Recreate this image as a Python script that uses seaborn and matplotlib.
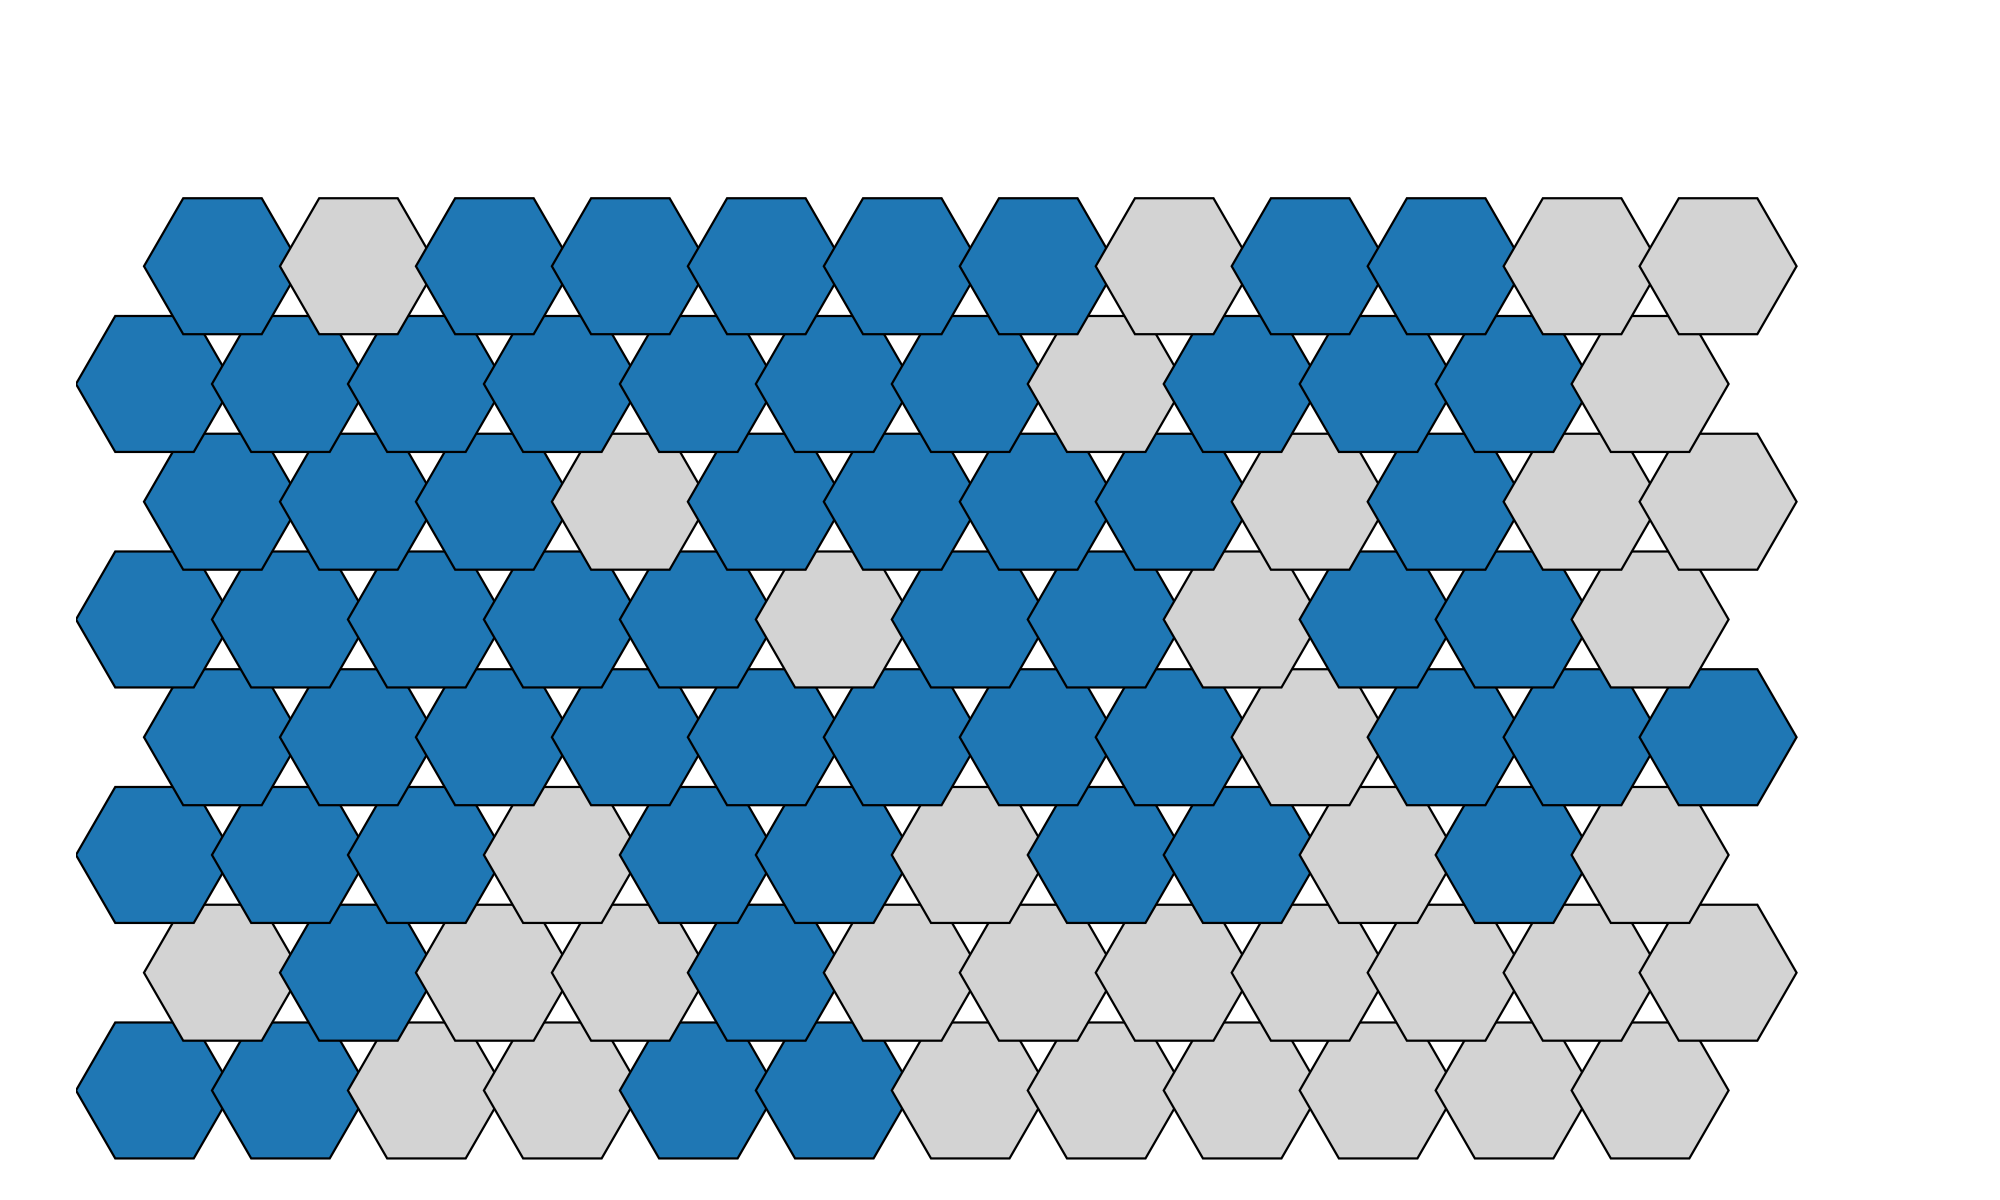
import numpy as np
import matplotlib
matplotlib.use("Agg")
import matplotlib.pyplot as plt
from matplotlib.patches import RegularPolygon
import seaborn as sns

sns.set_style("white")

# grid values, row 0 = bottom row; 1 = blue, 0 = grey
row0 = [1, 1, 0, 0, 1, 1, 0, 0, 0, 0, 0, 0]
row1 = [0, 1, 0, 0, 1, 0, 0, 0, 0, 0, 0, 0]
row2 = [1, 1, 1, 0, 1, 1, 0, 1, 1, 0, 1, 0]
row3 = [1, 1, 1, 1, 1, 1, 1, 1, 0, 1, 1, 1]
row4 = [1, 1, 1, 1, 1, 0, 1, 1, 0, 1, 1, 0]
row5 = [1, 1, 1, 0, 1, 1, 1, 1, 0, 1, 0, 0]
row6 = [1, 1, 1, 1, 1, 1, 1, 0, 1, 1, 1, 0]
row7 = [1, 0, 1, 1, 1, 1, 1, 0, 1, 1, 0, 0]
grid = [row0, row1, row2, row3, row4, row5, row6, row7]

pal = sns.color_palette("tab10")
colors = {1: pal[0], 0: "lightgray"}

fig = plt.figure(figsize=(20, 12), dpi=100)
ax = fig.add_axes([0.038, 0, 0.962, 1])

r = 1.0
dx = np.sqrt(3) * r
dy = 1.5 * r
for i, row in enumerate(grid):
    for j, v in enumerate(row):
        x = j * dx + (i % 2) * dx / 2
        y = i * dy
        hexa = RegularPolygon((x, y), numVertices=6, radius=r,
                              orientation=np.pi / 6,
                              facecolor=colors[v], edgecolor="black", lw=1.6)
        ax.add_patch(hexa)

ax.set_xlim(-1.0, 23.51)
ax.set_ylim(-1.394, 13.89)
ax.set_aspect("equal")
ax.axis("off")

fig.savefig("out.png", dpi=100)
